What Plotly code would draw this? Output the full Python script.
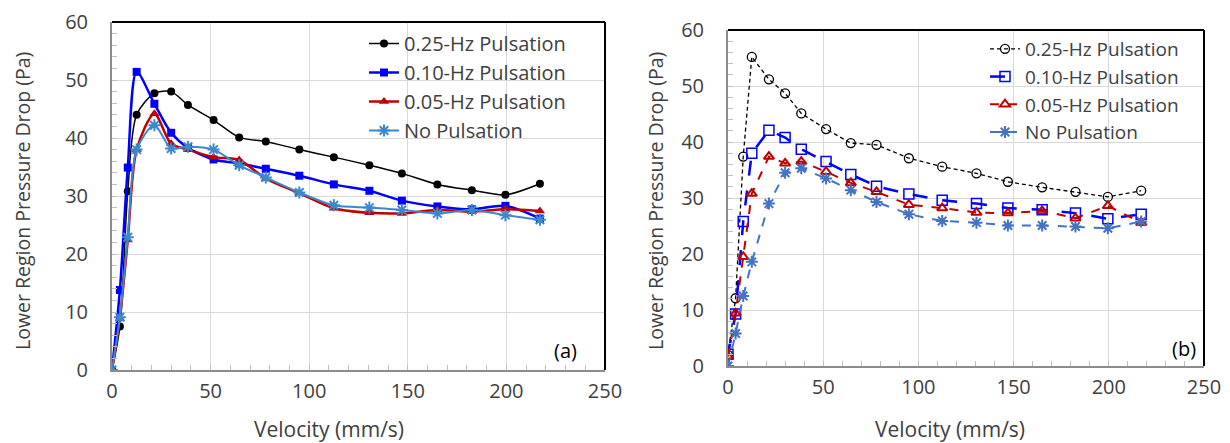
import plotly.graph_objects as go

# ---------------- data ----------------
velocity = [0, 4, 8, 12.5, 21.5, 30, 38.5, 51.5, 64.5, 78, 95, 112.5, 130.5, 147, 165, 182.5, 199.5, 217]

series_names = ["0.25-Hz Pulsation", "0.10-Hz Pulsation", "0.05-Hz Pulsation", "No Pulsation"]

# panel (a)
a_025 = [0, 7.5, 30.8, 44.0, 47.7, 48.0, 45.7, 43.1, 40.1, 39.4, 38.0, 36.7, 35.3, 33.9, 32.0, 31.0, 30.2, 32.1]
a_010 = [0, 13.8, 34.9, 51.4, 45.9, 40.9, 38.3, 36.3, 35.6, 34.7, 33.5, 32.0, 30.9, 29.2, 28.2, 27.7, 28.3, 26.1]
a_005 = [0, 8.9, 22.4, 38.0, 44.2, 39.0, 38.0, 36.7, 36.2, 33.0, 30.5, 27.9, 27.1, 27.0, 27.6, 27.3, 27.7, 27.4]
a_none = [0, 9.1, 22.9, 38.0, 42.2, 38.2, 38.5, 38.0, 35.3, 33.2, 30.6, 28.4, 28.0, 27.6, 27.0, 27.6, 26.7, 25.9]

# panel (b)
b_025 = [2.0, 12.1, 37.4, 55.2, 51.2, 48.7, 45.1, 42.3, 39.8, 39.5, 37.1, 35.6, 34.4, 32.9, 31.9, 31.1, 30.2, 31.3]
b_010 = [2.1, 9.3, 25.8, 38.0, 42.1, 40.8, 38.7, 36.5, 34.2, 32.1, 30.7, 29.6, 29.0, 28.2, 27.9, 27.3, 26.3, 27.1]
b_005 = [1.7, 9.4, 19.5, 30.8, 37.4, 36.2, 36.5, 34.7, 32.7, 31.1, 28.8, 28.2, 27.4, 27.3, 27.7, 26.4, 28.6, 25.6]
b_none = [0, 5.8, 12.5, 18.6, 29.0, 34.5, 35.3, 33.5, 31.4, 29.3, 27.1, 25.9, 25.6, 25.1, 25.1, 24.9, 24.6, 25.8]

x_ticks = [0, 50, 100, 150, 200, 250]
y_ticks = [0, 10, 20, 30, 40, 50, 60]
x_title = "Velocity (mm/s)"
y_title = "Lower Region Pressure Drop (Pa)"
panel_labels = ["(a)", "(b)"]

# ---------------- style ----------------
FONT = "Open Sans"
TXT = "#404040"
OFF = 8                      # page body margin
W, H = 1230 - OFF, 443 - OFF

fig = go.Figure()

# panel (a) traces
a_styles = [
    (a_025, dict(color="#000000", width=1.5), dict(symbol="circle", size=8, color="#000000")),
    (a_010, dict(color="#0000ff", width=2.5), dict(symbol="square", size=8, color="#0000ff")),
    (a_005, dict(color="#c00000", width=2.5), dict(symbol="triangle-up", size=9, color="#c00000")),
    (a_none, dict(color="#3b88cc", width=2), dict(symbol="asterisk-open", size=10, color="#3b88cc",
                                                  line=dict(color="#3b88cc", width=2))),
]
for (vals, ln, mk), name in zip(a_styles, series_names):
    fig.add_trace(go.Scatter(x=velocity, y=vals, mode="lines+markers", name=name,
                             line=dict(shape="spline", smoothing=0.8, **ln), marker=mk,
                             xaxis="x", yaxis="y", legend="legend"))

# panel (b) traces
b_styles = [
    (b_025, dict(color="#000000", width=1.3, dash="4px,3px"),
     dict(symbol="circle-open", size=9, color="#000000", line=dict(width=1.3))),
    (b_010, dict(color="#0000ff", width=2.5, dash="longdash"),
     dict(symbol="square-open", size=10, color="#0000ff", line=dict(width=1.5))),
    (b_005, dict(color="#c00000", width=2, dash="dash"),
     dict(symbol="triangle-up-open", size=9, color="#c00000", line=dict(width=2))),
    (b_none, dict(color="#4472c4", width=2, dash="dash"),
     dict(symbol="asterisk-open", size=10, color="#4472c4", line=dict(color="#4472c4", width=2))),
]
for (vals, ln, mk), name in zip(b_styles, series_names):
    fig.add_trace(go.Scatter(x=velocity, y=vals, mode="lines+markers", name=name,
                             line=ln, marker=mk, xaxis="x2", yaxis="y2", legend="legend2"))

px_x = lambda p: (p - OFF) / W
px_y = lambda p: 1 - (p - OFF) / H

def xaxis(dom, anchor):
    return dict(domain=dom, anchor=anchor, range=[0, 250], tickvals=x_ticks,
                showgrid=True, gridcolor="#d9d9d9", gridwidth=1,
                showline=True, linecolor="#8c8c8c", linewidth=2,
                ticks="inside", ticklen=5, tickcolor="#bfbfbf",
                minor=dict(dtick=10, ticks="inside", ticklen=5, tickcolor="#bfbfbf", showgrid=False),
                tickfont=dict(family=FONT, size=20, color=TXT), zeroline=False,
                ticklabelstandoff=2, automargin=False, fixedrange=True)

def yaxis(dom, anchor):
    return dict(domain=dom, anchor=anchor, range=[0, 60], tickvals=y_ticks,
                showgrid=True, gridcolor="#d9d9d9", gridwidth=1,
                showline=True, linecolor="#8c8c8c", linewidth=2,
                ticks="inside", ticklen=5, tickcolor="#bfbfbf",
                minor=dict(dtick=2, ticks="inside", ticklen=5, tickcolor="#bfbfbf", showgrid=False),
                tickfont=dict(family=FONT, size=20, color=TXT), zeroline=False,
                ticklabelstandoff=18, automargin=False, fixedrange=True)

fig.update_layout(
    width=W, height=H, margin=dict(l=0, r=0, t=0, b=0, autoexpand=False),
    paper_bgcolor="white", plot_bgcolor="white",
    font=dict(family=FONT, color=TXT),
    xaxis=xaxis([px_x(112), px_x(605)], "y"),
    yaxis=yaxis([px_y(370), px_y(22)], "x"),
    xaxis2=xaxis([px_x(728), px_x(1204)], "y2"),
    yaxis2=yaxis([px_y(366), px_y(30)], "x2"),
    legend=dict(x=px_x(364), y=px_y(24), xanchor="left", yanchor="top",
                bgcolor="rgba(0,0,0,0)", font=dict(family=FONT, size=20, color=TXT),
                tracegroupgap=0, itemwidth=30),
    legend2=dict(x=px_x(985), y=px_y(30), xanchor="left", yanchor="top",
                 bgcolor="rgba(0,0,0,0)", font=dict(family=FONT, size=19, color=TXT),
                 tracegroupgap=0, itemwidth=30),
    showlegend=True,
)

# frame: top and right borders in black
for xr, yr in (("x domain", "y domain"), ("x2 domain", "y2 domain")):
    fig.add_shape(type="line", xref=xr, yref=yr, x0=0, x1=1, y0=1, y1=1,
                  line=dict(color="#000000", width=2))
    fig.add_shape(type="line", xref=xr, yref=yr, x0=1, x1=1, y0=0, y1=1,
                  line=dict(color="#000000", width=2))

# axis titles
for cx in (329, 950):
    fig.add_annotation(text=x_title, xref="paper", yref="paper", x=px_x(cx), y=px_y(429),
                       showarrow=False, font=dict(family=FONT, size=21, color=TXT),
                       xanchor="center", yanchor="middle")
for cx in (23, 656):
    fig.add_annotation(text=y_title, xref="paper", yref="paper", x=px_x(cx), y=px_y(201),
                       showarrow=False, textangle=-90, font=dict(family=FONT, size=19.5, color=TXT),
                       xanchor="center", yanchor="middle")
# panel labels
for lab, cx, cy in zip(panel_labels, (565, 1184), (350, 348)):
    fig.add_annotation(text=lab, xref="paper", yref="paper", x=px_x(cx), y=px_y(cy),
                       showarrow=False, font=dict(family=FONT, size=20, color="#000000"),
                       xanchor="center", yanchor="middle")

fig.write_html("out.html")
